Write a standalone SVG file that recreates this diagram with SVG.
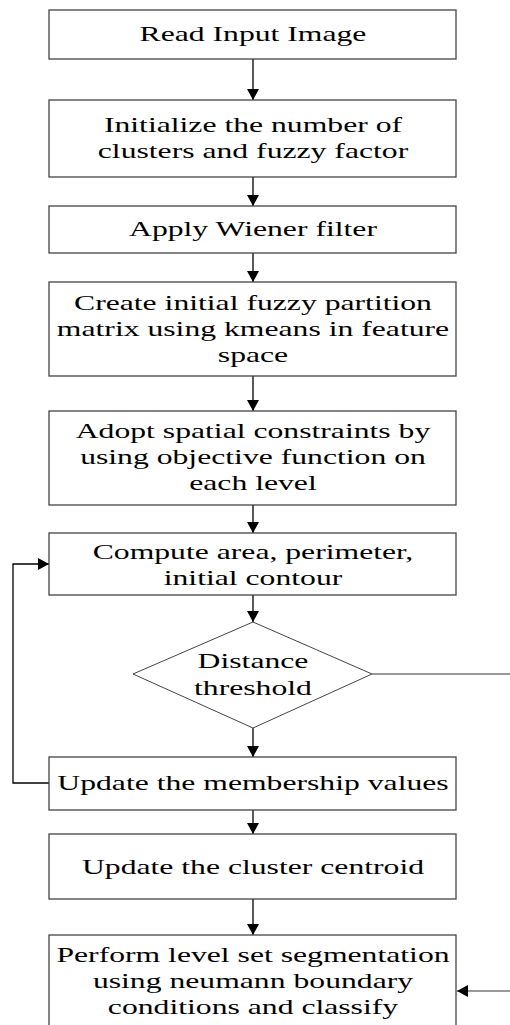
<svg xmlns="http://www.w3.org/2000/svg" width="510" height="1025" viewBox="0 0 510 1025">
<style>
.box{fill:#fff;stroke:#444;stroke-width:1.3}
.con{fill:none;stroke:#000;stroke-width:1.3}
.gray{fill:none;stroke:#777;stroke-width:1.4}
</style>
<defs>
<marker id="ah" markerUnits="userSpaceOnUse" markerWidth="12" markerHeight="12" viewBox="0 0 11 12" refX="11" refY="6" orient="auto">
<path d="M0,0 L11,6 L0,12 z" fill="#000"/>
</marker>
</defs>
<rect width="510" height="1025" fill="#fff"/>
<g id="connectors">
<line class="con" x1="253" y1="59" x2="253" y2="100" marker-end="url(#ah)"/>
<line class="con" x1="253" y1="177" x2="253" y2="206" marker-end="url(#ah)"/>
<line class="con" x1="253" y1="253" x2="253" y2="282" marker-end="url(#ah)"/>
<line class="con" x1="253" y1="376" x2="253" y2="411" marker-end="url(#ah)"/>
<line class="con" x1="253" y1="505" x2="253" y2="533" marker-end="url(#ah)"/>
<line class="con" x1="253" y1="595" x2="253" y2="622" marker-end="url(#ah)"/>
<polygon points="247,633 259,633 253,622" fill="#000"/>
<line class="con" x1="253" y1="728" x2="253" y2="757" marker-end="url(#ah)"/>
<polyline class="con" points="49,783 13,783 13,564 49,564" marker-end="url(#ah)"/>
<line class="con" x1="253" y1="810" x2="253" y2="834" marker-end="url(#ah)"/>
<line class="con" x1="253" y1="899" x2="253" y2="935" marker-end="url(#ah)"/>
<line class="gray" x1="372" y1="674" x2="510" y2="674"/>
<line class="gray" x1="510" y1="991" x2="457" y2="991" marker-end="url(#ah)"/>
</g>
<g font-family="'Liberation Serif', 'Times New Roman', serif" font-size="22" text-anchor="middle" fill="#000">
<g id="n1"><rect class="box" x="49" y="10" width="407" height="49"/>
<g transform="matrix(1.44 0 0 1 -111.32 0)"><text x="253" y="41.5">Read Input Image</text></g></g>
<g id="n2"><rect class="box" x="49" y="100" width="407" height="77"/>
<g transform="matrix(1.44 0 0 1 -111.32 0)"><text x="253" y="132.5">Initialize the number of</text><text x="253" y="158.5">clusters and fuzzy factor</text></g></g>
<g id="n3"><rect class="box" x="49" y="206" width="407" height="47"/>
<g transform="matrix(1.44 0 0 1 -111.32 0)"><text x="253" y="236">Apply Wiener filter</text></g></g>
<g id="n4"><rect class="box" x="49" y="282" width="407" height="94"/>
<g transform="matrix(1.44 0 0 1 -111.32 0)"><text x="253" y="310">Create initial fuzzy partition</text><text x="253" y="336">matrix using kmeans in feature</text><text x="253" y="362">space</text></g></g>
<g id="n5"><rect class="box" x="49" y="411" width="407" height="94"/>
<g transform="matrix(1.44 0 0 1 -111.32 0)"><text x="253" y="438">Adopt spatial constraints by</text><text x="253" y="464">using objective function on</text><text x="253" y="490">each level</text></g></g>
<g id="n6"><rect class="box" x="49" y="533" width="407" height="62"/>
<g transform="matrix(1.44 0 0 1 -111.32 0)"><text x="253" y="559">Compute area, perimeter,</text><text x="253" y="585">initial contour</text></g></g>
<g id="n7"><polygon points="253,622 372,674 253,728 133,674" fill="#fff" stroke="#444" stroke-width="1"/>
<g transform="matrix(1.44 0 0 1 -111.32 0)"><text x="253" y="668">Distance</text><text x="253" y="695">threshold</text></g></g>
<g id="n8"><rect class="box" x="49" y="757" width="407" height="53"/>
<g transform="matrix(1.44 0 0 1 -111.32 0)"><text x="253" y="790">Update the membership values</text></g></g>
<g id="n9"><rect class="box" x="49" y="834" width="407" height="65"/>
<g transform="matrix(1.44 0 0 1 -111.32 0)"><text x="253" y="874">Update the cluster centroid</text></g></g>
<g id="n10"><rect class="box" x="49" y="935" width="407" height="100"/>
<g transform="matrix(1.44 0 0 1 -111.32 0)"><text x="253" y="962">Perform level set segmentation</text><text x="253" y="988">using neumann boundary</text><text x="253" y="1014">conditions and classify</text></g></g>
</g>
</svg>
